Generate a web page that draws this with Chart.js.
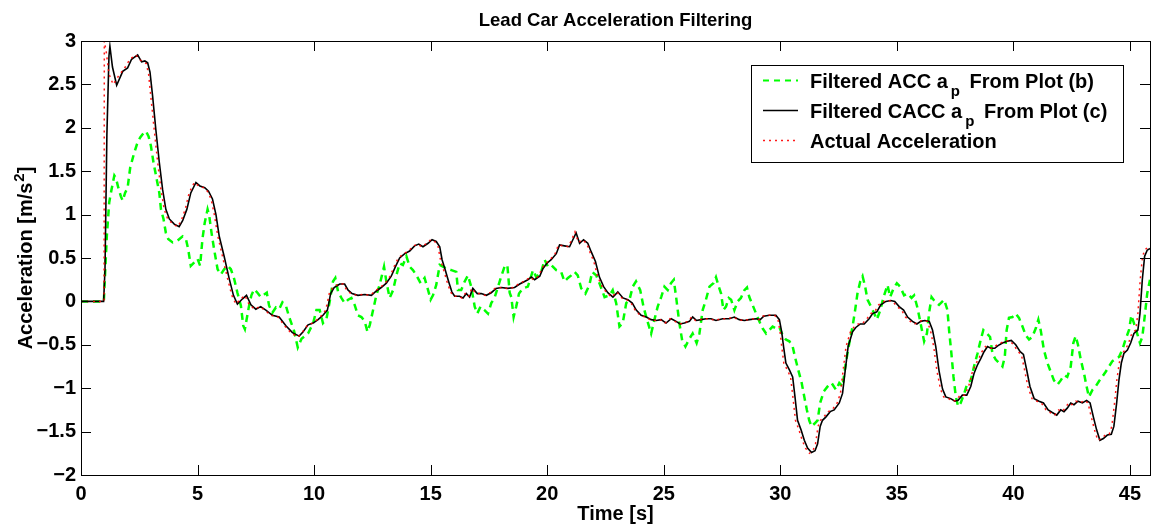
<!DOCTYPE html>
<html>
<head>
<meta charset="utf-8">
<script src="https://cdn.jsdelivr.net/npm/chart.js@4.4.0/dist/chart.umd.min.js"></script>
<style>
html, body { margin:0; padding:0; background:#fff; }
canvas { display:block; }
</style>
</head>
<body>
<canvas id="myChart" width="1152" height="525"></canvas>
<script>
var fuente = '"Liberation Sans", Arial, Helvetica, sans-serif';

var ticksX = [0, 5, 10, 15, 20, 25, 30, 35, 40, 45];
var ticksY = [-2, -1.5, -1, -0.5, 0, 0.5, 1, 1.5, 2, 2.5, 3];

// [tiempo s, aceleracion m/s^2]
var accFiltrada = [[0,0],[0.98,0],[1.03,0.3],[1.11,0.76],[1.21,1.14],[1.31,1.29],[1.43,1.45],[1.5,1.42],[1.6,1.31],[1.71,1.21],[1.79,1.16],[1.89,1.25],[2.0,1.31],[2.11,1.54],[2.26,1.69],[2.4,1.81],[2.54,1.89],[2.69,1.94],[2.79,1.96],[2.9,1.9],[3.0,1.79],[3.11,1.6],[3.26,1.39],[3.36,1.25],[3.43,1.06],[3.54,0.95],[3.64,0.79],[3.74,0.72],[3.93,0.68],[4.14,0.7],[4.36,0.75],[4.5,0.72],[4.6,0.6],[4.71,0.41],[4.86,0.45],[5.0,0.49],[5.11,0.41],[5.21,0.72],[5.31,0.91],[5.43,1.06],[5.5,0.99],[5.6,0.79],[5.71,0.6],[5.86,0.37],[6.0,0.31],[6.14,0.37],[6.29,0.41],[6.43,0.37],[6.57,0.26],[6.71,0.1],[6.86,-0.05],[6.96,-0.28],[7.03,-0.32],[7.11,-0.2],[7.21,-0.05],[7.31,0.07],[7.43,0.14],[7.57,0.1],[7.71,0.05],[7.86,0.08],[7.97,0.1],[8.07,-0.05],[8.21,-0.13],[8.36,-0.07],[8.5,-0.09],[8.64,-0.01],[8.79,-0.05],[8.93,-0.18],[9.14,-0.34],[9.3,-0.53],[9.46,-0.43],[9.74,-0.37],[9.96,-0.25],[10.1,-0.1],[10.24,-0.1],[10.38,-0.25],[10.53,-0.2],[10.67,0.0],[10.81,0.23],[10.91,0.27],[11.03,0.11],[11.17,0.04],[11.31,-0.02],[11.46,0.02],[11.6,0.04],[11.74,-0.04],[11.88,-0.16],[12.03,-0.18],[12.17,-0.23],[12.29,-0.35],[12.39,-0.27],[12.53,-0.1],[12.67,0.07],[12.81,0.19],[12.91,0.3],[13.0,0.4],[13.1,0.23],[13.24,0.04],[13.39,0.13],[13.53,0.3],[13.67,0.44],[13.81,0.42],[13.96,0.52],[14.1,0.4],[14.24,0.36],[14.39,0.3],[14.57,0.21],[14.74,0.27],[14.89,0.13],[15.0,0.02],[15.1,0.07],[15.24,0.19],[15.39,0.42],[15.53,0.4],[15.67,0.38],[15.89,0.36],[16.1,0.34],[16.17,0.13],[16.31,0.13],[16.46,0.23],[16.6,0.3],[16.74,0.17],[16.89,-0.06],[17.0,-0.14],[17.14,-0.06],[17.31,-0.1],[17.46,-0.14],[17.6,-0.02],[17.74,0.04],[17.89,0.17],[18.03,0.29],[18.17,0.4],[18.29,0.42],[18.39,0.1],[18.46,0.05],[18.56,-0.18],[18.67,-0.06],[18.79,0.09],[18.96,0.15],[19.17,0.17],[19.39,0.36],[19.53,0.28],[19.74,0.34],[19.89,0.48],[20.03,0.4],[20.17,0.42],[20.39,0.36],[20.6,0.34],[20.74,0.23],[20.89,0.27],[21.03,0.3],[21.17,0.34],[21.31,0.3],[21.46,0.15],[21.64,0.09],[21.81,0.19],[21.93,0.34],[22.1,0.3],[22.24,0.21],[22.46,0.05],[22.67,0.07],[22.81,0.13],[22.96,-0.02],[23.1,-0.29],[23.24,-0.25],[23.39,-0.02],[23.53,0.02],[23.67,0.17],[23.81,0.23],[23.99,0.13],[24.13,-0.06],[24.27,-0.2],[24.46,-0.37],[24.6,-0.21],[24.74,-0.06],[24.89,0.05],[25.03,0.17],[25.17,0.13],[25.31,0.21],[25.43,0.25],[25.53,0.05],[25.67,-0.25],[25.79,-0.45],[25.93,-0.52],[26.1,-0.43],[26.24,-0.37],[26.41,-0.48],[26.53,-0.37],[26.67,-0.1],[26.81,0.02],[26.96,0.17],[27.13,0.21],[27.24,0.28],[27.36,0.17],[27.46,0.09],[27.56,-0.1],[27.67,-0.06],[27.79,0.04],[27.89,0.02],[28.03,-0.1],[28.17,0.0],[28.31,0.04],[28.46,0.13],[28.57,0.16],[28.67,0.05],[28.81,-0.04],[28.96,-0.14],[29.1,-0.23],[29.24,-0.31],[29.39,-0.37],[29.53,-0.33],[29.67,-0.29],[29.81,-0.31],[29.96,-0.3],[30.1,-0.39],[30.24,-0.44],[30.39,-0.46],[30.53,-0.52],[30.63,-0.64],[30.77,-0.79],[30.91,-0.93],[31.03,-1.1],[31.14,-1.25],[31.24,-1.37],[31.34,-1.44],[31.46,-1.41],[31.6,-1.37],[31.71,-1.17],[31.86,-1.04],[32.03,-0.98],[32.2,-0.94],[32.39,-1.02],[32.53,-0.94],[32.67,-0.98],[32.81,-0.71],[32.96,-0.48],[33.1,-0.29],[33.21,-0.1],[33.31,0.09],[33.43,0.23],[33.53,0.29],[33.64,0.17],[33.74,0.02],[33.89,-0.06],[34.03,-0.14],[34.14,-0.21],[34.29,-0.1],[34.43,0.05],[34.6,0.19],[34.71,0.05],[34.86,0.15],[35.0,0.21],[35.14,0.17],[35.31,0.07],[35.46,0.09],[35.63,0.04],[35.74,0.07],[35.89,-0.08],[36.03,-0.27],[36.17,-0.46],[36.29,-0.37],[36.39,-0.12],[36.49,0.05],[36.63,0.0],[36.81,-0.04],[37.03,0.02],[37.17,-0.1],[37.24,-0.33],[37.34,-0.6],[37.43,-0.87],[37.53,-1.1],[37.63,-1.21],[37.74,-1.17],[37.89,-1.06],[38.03,-0.94],[38.17,-0.91],[38.31,-0.75],[38.46,-0.6],[38.6,-0.44],[38.71,-0.33],[38.86,-0.37],[39.0,-0.41],[39.1,-0.6],[39.24,-0.67],[39.39,-0.71],[39.53,-0.75],[39.63,-0.64],[39.71,-0.33],[39.81,-0.19],[39.96,-0.18],[40.1,-0.14],[40.24,-0.19],[40.39,-0.29],[40.53,-0.39],[40.67,-0.44],[40.81,-0.41],[40.96,-0.31],[41.07,-0.21],[41.17,-0.33],[41.31,-0.56],[41.46,-0.71],[41.6,-0.81],[41.74,-0.91],[41.89,-0.96],[42.03,-0.91],[42.17,-0.85],[42.31,-0.87],[42.46,-0.75],[42.57,-0.48],[42.67,-0.4],[42.77,-0.5],[42.89,-0.67],[43.03,-0.83],[43.14,-0.98],[43.24,-1.1],[43.39,-1.02],[43.53,-0.98],[43.67,-0.92],[43.81,-0.87],[43.96,-0.81],[44.1,-0.75],[44.24,-0.69],[44.39,-0.66],[44.53,-0.64],[44.67,-0.56],[44.81,-0.44],[44.96,-0.33],[45.06,-0.16],[45.17,-0.25],[45.31,-0.37],[45.43,-0.48],[45.53,-0.41],[45.63,-0.18],[45.74,0.09],[45.86,0.25]];

var caccFiltrada = [[0,0],[0.97,0],[1.03,0.37],[1.11,1.91],[1.2,2.83],[1.24,2.94],[1.35,2.7],[1.53,2.49],[1.79,2.65],[2.0,2.69],[2.17,2.79],[2.43,2.84],[2.6,2.76],[2.74,2.77],[2.86,2.75],[2.96,2.64],[3.07,2.37],[3.21,1.98],[3.36,1.6],[3.5,1.29],[3.64,1.06],[3.79,0.95],[4.0,0.89],[4.21,0.86],[4.36,0.93],[4.54,1.06],[4.71,1.25],[4.93,1.37],[5.1,1.33],[5.31,1.31],[5.47,1.27],[5.64,1.18],[5.79,1.0],[5.93,0.75],[6.14,0.52],[6.36,0.26],[6.54,0.07],[6.71,-0.03],[6.93,0.03],[7.1,0.07],[7.29,-0.04],[7.5,-0.09],[7.71,-0.06],[7.93,-0.1],[8.21,-0.16],[8.5,-0.18],[8.79,-0.28],[9.07,-0.36],[9.36,-0.4],[9.53,-0.35],[9.74,-0.27],[9.96,-0.25],[10.17,-0.21],[10.38,-0.16],[10.57,-0.1],[10.71,0.09],[10.86,0.16],[11.1,0.2],[11.31,0.2],[11.46,0.13],[11.63,0.09],[11.88,0.07],[12.17,0.08],[12.46,0.07],[12.67,0.12],[12.88,0.16],[13.1,0.21],[13.31,0.29],[13.49,0.4],[13.67,0.5],[13.89,0.55],[14.1,0.58],[14.31,0.64],[14.49,0.66],[14.67,0.63],[14.89,0.67],[15.06,0.71],[15.24,0.69],[15.39,0.63],[15.49,0.48],[15.63,0.36],[15.77,0.23],[15.91,0.11],[16.03,0.06],[16.24,0.06],[16.39,0.04],[16.53,0.09],[16.67,0.05],[16.81,0.15],[17.0,0.09],[17.17,0.09],[17.39,0.07],[17.6,0.1],[17.81,0.15],[18.03,0.16],[18.31,0.15],[18.6,0.16],[18.82,0.2],[19.03,0.23],[19.17,0.25],[19.32,0.28],[19.46,0.25],[19.68,0.29],[19.82,0.38],[19.99,0.44],[20.17,0.48],[20.39,0.55],[20.53,0.65],[20.74,0.64],[20.96,0.63],[21.1,0.71],[21.24,0.79],[21.39,0.67],[21.56,0.71],[21.74,0.67],[21.89,0.57],[22.07,0.46],[22.24,0.28],[22.42,0.17],[22.6,0.1],[22.82,0.05],[23.03,0.11],[23.25,0.04],[23.46,0.02],[23.65,-0.02],[23.82,-0.1],[24.03,-0.16],[24.25,-0.18],[24.46,-0.21],[24.68,-0.22],[24.89,-0.21],[25.1,-0.25],[25.32,-0.2],[25.53,-0.23],[25.7,-0.26],[25.89,-0.25],[26.1,-0.23],[26.24,-0.18],[26.41,-0.22],[26.6,-0.21],[26.82,-0.2],[27.03,-0.2],[27.24,-0.22],[27.53,-0.2],[27.81,-0.2],[28.03,-0.18],[28.24,-0.21],[28.46,-0.22],[28.67,-0.21],[28.96,-0.2],[29.14,-0.21],[29.29,-0.17],[29.53,-0.16],[29.81,-0.16],[29.96,-0.21],[30.06,-0.35],[30.14,-0.52],[30.24,-0.71],[30.39,-0.79],[30.53,-0.87],[30.63,-1.1],[30.74,-1.37],[30.89,-1.48],[31.03,-1.6],[31.17,-1.69],[31.34,-1.74],[31.49,-1.72],[31.6,-1.64],[31.71,-1.44],[31.81,-1.37],[31.96,-1.33],[32.14,-1.27],[32.31,-1.25],[32.53,-1.17],[32.67,-1.06],[32.77,-0.83],[32.91,-0.52],[33.1,-0.35],[33.24,-0.3],[33.43,-0.26],[33.6,-0.26],[33.81,-0.2],[33.96,-0.14],[34.14,-0.12],[34.31,-0.04],[34.53,0.0],[34.74,0.01],[34.91,0.0],[35.1,-0.06],[35.29,-0.1],[35.46,-0.18],[35.67,-0.23],[35.86,-0.26],[36.03,-0.23],[36.2,-0.22],[36.39,-0.23],[36.53,-0.33],[36.67,-0.52],[36.81,-0.8],[36.96,-1.01],[37.1,-1.1],[37.31,-1.12],[37.49,-1.15],[37.63,-1.14],[37.81,-1.08],[38.0,-1.08],[38.17,-0.98],[38.31,-0.83],[38.46,-0.73],[38.6,-0.66],[38.74,-0.58],[38.89,-0.52],[39.03,-0.54],[39.2,-0.54],[39.34,-0.51],[39.53,-0.48],[39.74,-0.46],[39.91,-0.45],[40.1,-0.5],[40.29,-0.58],[40.43,-0.61],[40.57,-0.79],[40.71,-0.98],[40.89,-1.12],[41.1,-1.15],[41.29,-1.17],[41.49,-1.25],[41.67,-1.28],[41.86,-1.31],[42.03,-1.25],[42.17,-1.27],[42.31,-1.23],[42.46,-1.17],[42.6,-1.19],[42.77,-1.15],[42.96,-1.17],[43.14,-1.14],[43.29,-1.17],[43.43,-1.33],[43.57,-1.48],[43.71,-1.6],[43.86,-1.58],[44.03,-1.54],[44.2,-1.53],[44.31,-1.44],[44.43,-1.17],[44.53,-0.9],[44.63,-0.71],[44.74,-0.6],[44.89,-0.56],[45.03,-0.48],[45.17,-0.37],[45.34,-0.33],[45.43,-0.14],[45.53,0.25],[45.63,0.52],[45.74,0.59],[45.86,0.61]];

var aceleracionReal = [[0,0],[0.99,0],[1.0,3.0],[1.08,2.88],[1.2,2.62],[1.38,2.5],[1.62,2.6],[1.9,2.7],[2.1,2.79],[2.35,2.84],[2.55,2.78],[2.8,2.74],[2.9,2.62],[3.0,2.35],[3.14,1.98],[3.29,1.6],[3.43,1.29],[3.57,1.06],[3.72,0.95],[3.95,0.89],[4.15,0.86],[4.3,0.93],[4.47,1.06],[4.64,1.25],[4.86,1.37],[5.05,1.33],[5.26,1.31],[5.42,1.27],[5.58,1.18],[5.72,1.0],[5.87,0.75],[6.07,0.52],[6.29,0.26],[6.47,0.07],[6.64,-0.03],[6.86,0.03],[7.03,0.07],[7.22,-0.04],[7.45,-0.09],[7.66,-0.06],[7.88,-0.1],[8.15,-0.16],[8.45,-0.18],[8.73,-0.28],[9.0,-0.36],[9.3,-0.41],[9.48,-0.36],[9.7,-0.28],[9.92,-0.25],[10.13,-0.21],[10.33,-0.16],[10.5,-0.1],[10.65,0.09],[10.8,0.16],[11.05,0.2],[11.25,0.2],[11.4,0.13],[11.58,0.09],[11.83,0.07],[12.12,0.08],[12.41,0.07],[12.62,0.12],[12.83,0.16],[13.05,0.21],[13.26,0.29],[13.43,0.4],[13.61,0.5],[13.84,0.55],[14.05,0.58],[14.26,0.64],[14.44,0.66],[14.62,0.63],[14.84,0.67],[15.0,0.71],[15.18,0.69],[15.32,0.63],[15.42,0.48],[15.56,0.36],[15.7,0.23],[15.85,0.11],[15.98,0.06],[16.19,0.06],[16.34,0.04],[16.48,0.09],[16.62,0.05],[16.76,0.15],[16.95,0.09],[17.12,0.09],[17.34,0.07],[17.55,0.1],[17.76,0.15],[17.98,0.16],[18.26,0.15],[18.55,0.16],[18.77,0.2],[18.98,0.23],[19.12,0.25],[19.27,0.28],[19.41,0.25],[19.63,0.29],[19.77,0.38],[19.94,0.44],[20.12,0.48],[20.34,0.55],[20.48,0.65],[20.69,0.64],[20.91,0.63],[21.05,0.71],[21.19,0.8],[21.34,0.68],[21.51,0.71],[21.69,0.67],[21.83,0.57],[22.0,0.46],[22.17,0.28],[22.36,0.17],[22.55,0.1],[22.77,0.05],[22.98,0.11],[23.2,0.04],[23.41,0.02],[23.6,-0.02],[23.77,-0.1],[23.98,-0.16],[24.2,-0.18],[24.41,-0.21],[24.63,-0.22],[24.84,-0.21],[25.05,-0.25],[25.27,-0.2],[25.48,-0.23],[25.65,-0.26],[25.84,-0.25],[26.05,-0.23],[26.19,-0.18],[26.36,-0.22],[26.55,-0.21],[26.77,-0.2],[26.98,-0.2],[27.19,-0.22],[27.48,-0.2],[27.76,-0.2],[27.98,-0.18],[28.19,-0.21],[28.41,-0.22],[28.62,-0.21],[28.91,-0.2],[29.09,-0.21],[29.24,-0.17],[29.48,-0.16],[29.76,-0.16],[29.9,-0.21],[29.99,-0.35],[30.06,-0.52],[30.15,-0.71],[30.3,-0.79],[30.44,-0.87],[30.54,-1.1],[30.65,-1.37],[30.8,-1.48],[30.94,-1.6],[31.08,-1.69],[31.25,-1.75],[31.4,-1.72],[31.51,-1.64],[31.62,-1.44],[31.72,-1.37],[31.87,-1.33],[32.05,-1.27],[32.22,-1.25],[32.44,-1.17],[32.58,-1.06],[32.68,-0.83],[32.82,-0.52],[33.01,-0.35],[33.15,-0.3],[33.34,-0.26],[33.51,-0.26],[33.72,-0.2],[33.87,-0.14],[34.05,-0.12],[34.22,-0.04],[34.44,0.0],[34.65,0.01],[34.82,0.0],[35.01,-0.06],[35.2,-0.1],[35.37,-0.18],[35.58,-0.23],[35.77,-0.26],[35.94,-0.23],[36.11,-0.22],[36.3,-0.23],[36.44,-0.33],[36.58,-0.52],[36.72,-0.8],[36.87,-1.01],[37.01,-1.1],[37.22,-1.12],[37.4,-1.15],[37.54,-1.14],[37.72,-1.08],[37.91,-1.08],[38.08,-0.98],[38.22,-0.83],[38.37,-0.73],[38.51,-0.66],[38.65,-0.58],[38.8,-0.52],[38.94,-0.54],[39.11,-0.54],[39.25,-0.51],[39.44,-0.48],[39.65,-0.46],[39.82,-0.45],[40.01,-0.5],[40.2,-0.58],[40.34,-0.61],[40.48,-0.79],[40.62,-0.98],[40.8,-1.12],[41.01,-1.15],[41.2,-1.17],[41.4,-1.25],[41.58,-1.28],[41.77,-1.31],[41.94,-1.25],[42.08,-1.27],[42.22,-1.23],[42.37,-1.17],[42.51,-1.19],[42.68,-1.15],[42.87,-1.17],[43.05,-1.14],[43.2,-1.17],[43.34,-1.33],[43.48,-1.48],[43.62,-1.6],[43.77,-1.58],[43.94,-1.54],[44.11,-1.53],[44.22,-1.44],[44.34,-1.17],[44.44,-0.9],[44.54,-0.71],[44.65,-0.6],[44.8,-0.56],[44.94,-0.48],[45.08,-0.37],[45.25,-0.33],[45.34,-0.14],[45.44,0.25],[45.54,0.52],[45.65,0.6],[45.77,0.62],[45.86,0.63]];

var rojo = 'rgba(255,0,0,0.9)';
var verde = '#00ff00';

function puntos(serie) {
    return serie.map(function (p) { return {x: p[0], y: p[1]}; });
}

function menos(v) {
    return String(v).replace('-', '\u2212');
}

// caja, marcas hacia dentro, titulos y leyenda (estilo matlab)
var marco = {
    id: 'marco',
    afterDatasetsDraw: function (chart) {
        var ctx = chart.ctx, a = chart.chartArea;
        var sx = chart.scales.x, sy = chart.scales.y;
        ctx.save();
        ctx.strokeStyle = '#000';
        ctx.lineWidth = 1;
        ctx.beginPath();
        ticksX.forEach(function (v) {
            var px = Math.round(sx.getPixelForValue(v)) + 0.5;
            ctx.moveTo(px, a.bottom); ctx.lineTo(px, a.bottom - 10);
            ctx.moveTo(px, a.top); ctx.lineTo(px, a.top + 10);
        });
        ticksY.forEach(function (v) {
            var py = Math.round(sy.getPixelForValue(v)) + 0.5;
            ctx.moveTo(a.left, py); ctx.lineTo(a.left + 10, py);
            ctx.moveTo(a.right, py); ctx.lineTo(a.right - 10, py);
        });
        ctx.stroke();
        ctx.strokeRect(a.left + 0.5, a.top + 0.5, a.right - a.left, a.bottom - a.top);
        ctx.restore();
    },
    afterDraw: function (chart) {
        var ctx = chart.ctx, a = chart.chartArea;
        var cx = (a.left + a.right) / 2, cy = (a.top + a.bottom) / 2;
        ctx.save();
        ctx.fillStyle = '#000';
        ctx.textBaseline = 'alphabetic';

        ctx.font = 'bold 18.5px ' + fuente;
        ctx.textAlign = 'center';
        ctx.fillText('Lead Car Acceleration Filtering', cx, 26);

        ctx.font = 'bold 20px ' + fuente;
        ctx.fillText('Time [s]', cx, 520);

        // eje y con superindice
        ctx.save();
        ctx.translate(32, cy);
        ctx.rotate(-Math.PI / 2);
        ctx.textAlign = 'left';
        var t1 = 'Acceleration [m/s', t2 = '2', t3 = ']';
        ctx.font = 'bold 20px ' + fuente;
        var w1 = ctx.measureText(t1).width, w3 = ctx.measureText(t3).width;
        ctx.font = 'bold 15px ' + fuente;
        var w2 = ctx.measureText(t2).width;
        var x0 = -(w1 + w2 + w3 + 1) / 2;
        ctx.font = 'bold 20px ' + fuente;
        ctx.fillText(t1, x0, 0);
        ctx.font = 'bold 15px ' + fuente;
        ctx.fillText(t2, x0 + w1 + 1, -8);
        ctx.font = 'bold 20px ' + fuente;
        ctx.fillText(t3, x0 + w1 + w2 + 1, 0);
        ctx.restore();

        // leyenda
        var lx = 751, ly = 65, lw = 372, lh = 97;
        ctx.fillStyle = '#fff';
        ctx.fillRect(lx, ly, lw, lh);
        ctx.strokeStyle = '#000';
        ctx.lineWidth = 1;
        ctx.strokeRect(lx + 0.5, ly + 0.5, lw, lh);

        var filas = [
            {a: 'Filtered ACC a', b: ' From Plot (b)', color: verde, dash: [6, 5], ancho: 2},
            {a: 'Filtered CACC a', b: ' From Plot (c)', color: '#000000', dash: [], ancho: 1.5},
            {a: 'Actual Acceleration', b: null, color: rojo, dash: [2, 4], ancho: 1.5}
        ];
        filas.forEach(function (f, i) {
            var base = 88 + i * 30;
            ctx.strokeStyle = f.color;
            ctx.lineWidth = f.ancho;
            ctx.setLineDash(f.dash);
            ctx.beginPath();
            ctx.moveTo(763, base - 7.5);
            ctx.lineTo(798, base - 7.5);
            ctx.stroke();
            ctx.setLineDash([]);

            ctx.fillStyle = '#000';
            ctx.textAlign = 'left';
            ctx.font = 'bold 20px ' + fuente;
            ctx.fillText(f.a, 810, base);
            if (f.b) {
                var wa = ctx.measureText(f.a).width;
                ctx.font = 'bold 15px ' + fuente;
                ctx.fillText('p', 810 + wa + 3, base + 8);
                var wp = ctx.measureText('p').width;
                ctx.font = 'bold 20px ' + fuente;
                ctx.fillText(f.b, 810 + wa + wp + 7, base);
            }
        });
        ctx.restore();
    }
};

function graficar() {
    var ctx = document.getElementById('myChart').getContext('2d');
    var fuenteTicks = {family: fuente, size: 20, weight: 'bold'};
    var chart = new Chart(ctx, {
        type: 'line',
        data: {
            datasets: [{
                label: 'Actual Acceleration',
                data: puntos(aceleracionReal),
                borderColor: rojo,
                borderWidth: 1.5,
                borderDash: [2, 4],
                order: 0
            }, {
                label: 'Filtered CACC ap From Plot (c)',
                data: puntos(caccFiltrada),
                borderColor: '#000000',
                borderWidth: 1.6,
                order: 1
            }, {
                label: 'Filtered ACC ap From Plot (b)',
                data: puntos(accFiltrada),
                borderColor: verde,
                borderWidth: 2.5,
                borderDash: [7, 5],
                order: 2
            }]
        },
        options: {
            responsive: false,
            animation: false,
            devicePixelRatio: 1,
            elements: {point: {radius: 0}, line: {tension: 0, fill: false}},
            layout: {padding: {top: 41, right: 2, left: 0, bottom: 0}},
            plugins: {legend: {display: false}, tooltip: {enabled: false}, title: {display: false}},
            scales: {
                x: {
                    type: 'linear', min: 0, max: 45.86,
                    grid: {display: false, drawTicks: false},
                    border: {display: false},
                    afterBuildTicks: function (s) { s.ticks = ticksX.map(function (v) { return {value: v}; }); },
                    afterFit: function (s) { s.height = 50; },
                    ticks: {font: fuenteTicks, color: '#000', padding: 7, maxRotation: 0, autoSkip: false,
                        callback: function (v) { return menos(v); }}
                },
                y: {
                    type: 'linear', min: -2, max: 3,
                    grid: {display: false, drawTicks: false},
                    border: {display: false},
                    afterBuildTicks: function (s) { s.ticks = ticksY.map(function (v) { return {value: v}; }); },
                    afterFit: function (s) { s.width = 81; },
                    ticks: {font: fuenteTicks, color: '#000', padding: 5, autoSkip: false,
                        callback: function (v) { return menos(v); }}
                }
            }
        },
        plugins: [marco]
    });
}

graficar();
</script>
</body>
</html>
